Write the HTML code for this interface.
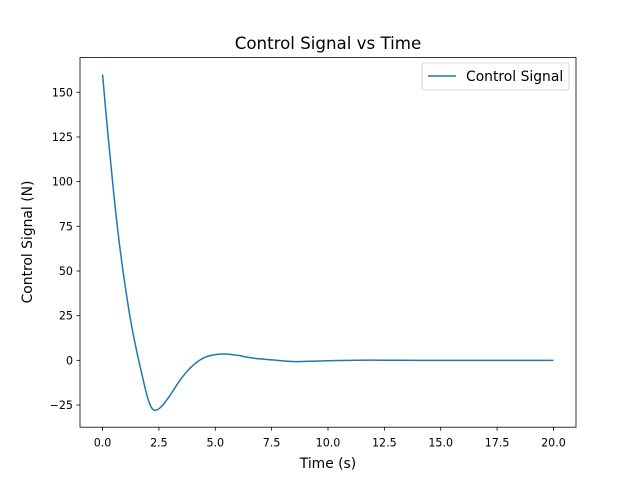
<!DOCTYPE html>
<html><head><meta charset="utf-8"><style>
body{margin:0;background:#fff;}
svg{display:block;font-family:"DejaVu Sans","Liberation Sans",sans-serif;}
</style></head><body>
<svg id="chart" width="640" height="480" viewBox="0 0 640 480">
<rect width="640" height="480" fill="#fff"/>
<text x="328" y="49" text-anchor="middle" font-size="16.67">Control Signal vs Time</text>
<g id="ticks"></g>
<path id="line" fill="none" stroke="#1f77b4" stroke-width="1.5" stroke-linejoin="round"/>
<rect x="80" y="57.6" width="496" height="369.6" fill="none" stroke="#000" stroke-width="0.8"/>
<text x="328" y="468" text-anchor="middle" font-size="13.89">Time (s)</text>
<text transform="translate(32,242) rotate(-90)" text-anchor="middle" font-size="13.89">Control Signal (N)</text>
<g>
<rect x="422" y="63" width="147" height="27" rx="2" fill="#fff" stroke="#ccc" stroke-width="0.8"/>
<line x1="428" y1="76" x2="456" y2="76" stroke="#1f77b4" stroke-width="1.5"/>
<text x="466" y="81" font-size="13.89">Control Signal</text>
</g>
</svg>
<script>
const times=[0,0.25,0.5,0.75,1.0,1.25,1.5,1.75,2.0,2.2,2.4,2.6,2.8,3.0,3.5,4.0,4.5,5.0,5.5,6.0,6.5,7.0,7.5,8.0,8.5,9.0,10,11,12,14,16,18,20];
const values=[160,125,93,65,42,22,6,-8,-21,-27,-27.8,-26,-23,-19.5,-10,-3,1.5,3.2,3.5,2.8,1.6,0.8,0.3,-0.3,-0.7,-0.6,-0.2,0,0.1,0,0,0,0];
const xTicks=[0,2.5,5,7.5,10,12.5,15,17.5,20];
const xTickLabels=["0.0","2.5","5.0","7.5","10.0","12.5","15.0","17.5","20.0"];
const yTicks=[-25,0,25,50,75,100,125,150];
const yTickLabels=["−25","0","25","50","75","100","125","150"];
const L=80,R=576,T=57.6,B=427.2;
const xmin=-1,xmax=21,ymin=-37.4,ymax=169.4;
const X=v=>L+(v-xmin)/(xmax-xmin)*(R-L);
const Y=v=>B-(v-ymin)/(ymax-ymin)*(B-T);
const ns="http://www.w3.org/2000/svg";
const g=document.getElementById('ticks');
function mk(tag,a){const e=document.createElementNS(ns,tag);for(const k in a)e.setAttribute(k,a[k]);g.appendChild(e);return e;}
xTicks.forEach((t,i)=>{
 const l=mk('line',{x1:X(t),x2:X(t),y1:B,y2:B+3.5,stroke:'#000','stroke-width':0.8});
 
 
 const tx=mk('text',{x:X(t),y:B+19.5,'text-anchor':'middle','font-size':11.1});
 
 
 tx.textContent=xTickLabels[i];
});
yTicks.forEach((t,i)=>{
 const l=mk('line',{x1:L-3.5,x2:L,y1:Y(t),y2:Y(t),stroke:'#000','stroke-width':0.8});
 
 
 const tx=mk('text',{x:L-7,y:Y(t)+4,'text-anchor':'end','font-size':11.1});
 
 
 tx.textContent=yTickLabels[i];
});
const P=times.map((t,i)=>[X(t),Y(values[i])]);
let d='M'+P[0][0].toFixed(2)+','+P[0][1].toFixed(2);
for(let i=0;i<P.length-1;i++){
 const p0=P[Math.max(i-1,0)],p1=P[i],p2=P[i+1],p3=P[Math.min(i+2,P.length-1)];
 const c1=[p1[0]+(p2[0]-p0[0])/6,p1[1]+(p2[1]-p0[1])/6];
 const c2=[p2[0]-(p3[0]-p1[0])/6,p2[1]-(p3[1]-p1[1])/6];
 d+=' C'+c1.map(v=>v.toFixed(2)).join(',')+' '+c2.map(v=>v.toFixed(2)).join(',')+' '+p2.map(v=>v.toFixed(2)).join(',');
}
document.getElementById('line').setAttribute('d',d);
</script>
</body></html>
